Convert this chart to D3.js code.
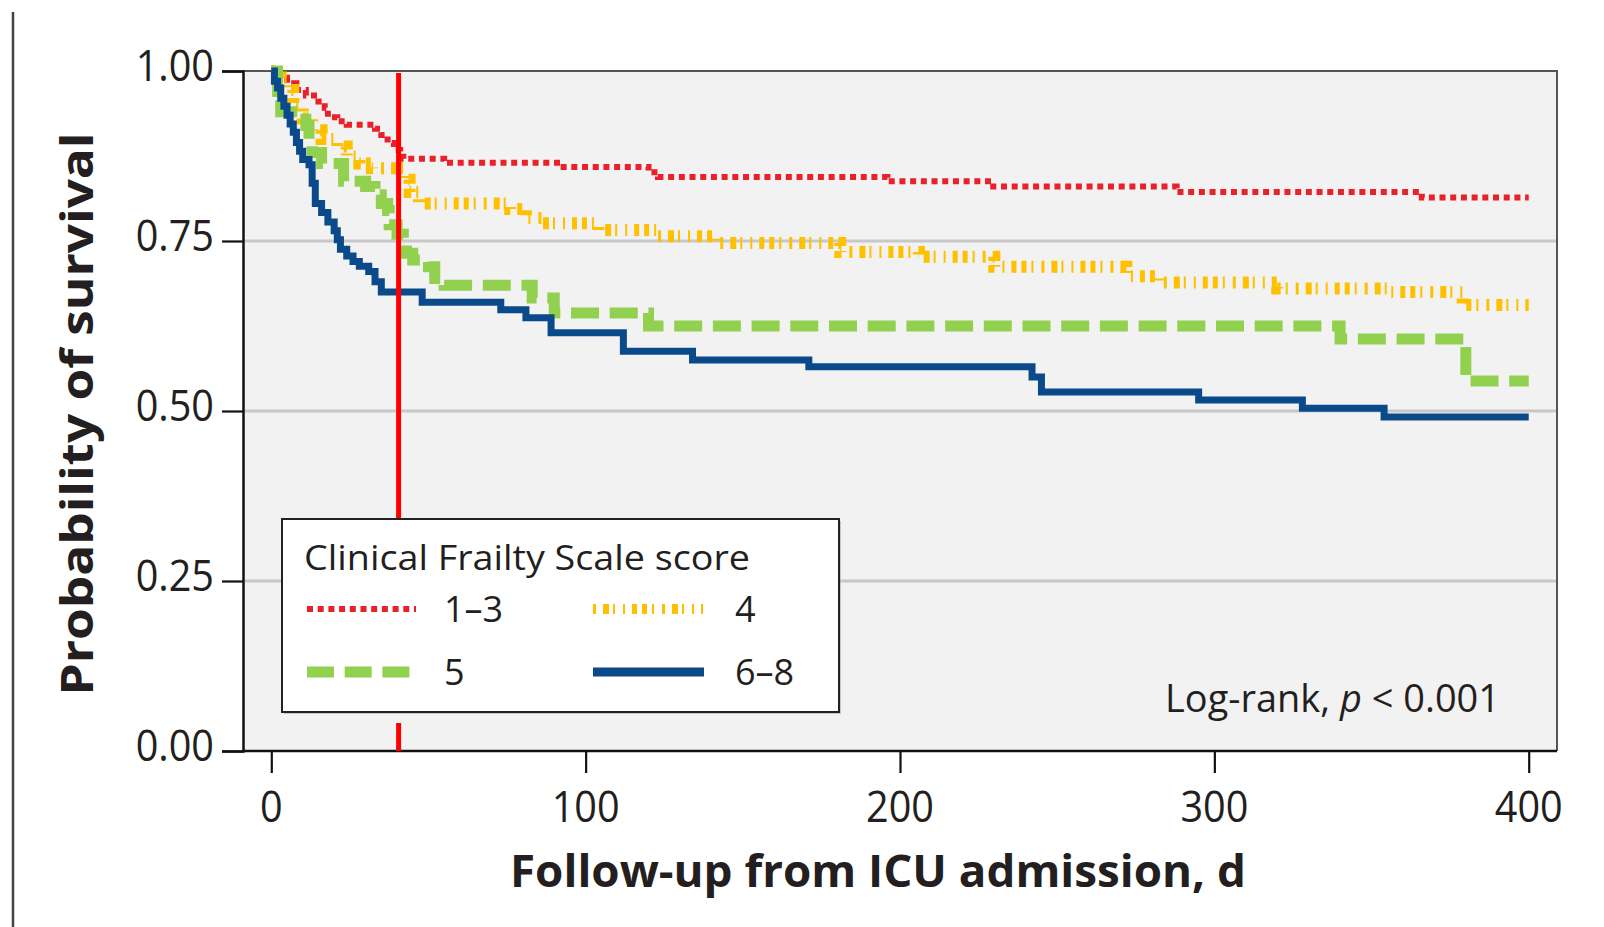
<!DOCTYPE html>
<html><head><meta charset="utf-8">
<script src="https://cdn.jsdelivr.net/npm/d3@7"></script>
<style>body{margin:0;background:#fff;} svg{display:block;}</style>
</head><body>
<svg id="chart" width="1604" height="927"></svg>
<script>
// ---------- data ----------
const groups = ["1–3", "4", "5", "6–8"];
// Kaplan–Meier step points: [day, survival]
const cfs13 = [[0,1.0],[3,0.99],[5,0.982],[8,0.972],[11,0.964],[15,0.955],[17,0.946],[18,0.932],[21,0.926],[24,0.921],[33,0.915],[35,0.906],[37,0.894],[39,0.884],[41,0.874],[42,0.871],[55,0.865],[92,0.859],[120,0.851],[123,0.844],[196,0.838],[228,0.83],[288,0.822],[366,0.814],[400,0.814]];
const cfs4 = [[0,1.0],[3,0.99],[5,0.972],[7,0.95],[10,0.93],[13,0.913],[16,0.9],[21,0.889],[24,0.874],[28,0.864],[32,0.857],[42,0.84],[44,0.822],[47,0.805],[76,0.797],[81,0.784],[86,0.776],[104,0.766],[123,0.757],[141,0.747],[181,0.734],[206,0.727],[230,0.712],[272,0.698],[282,0.689],[320,0.68],[355,0.675],[379,0.656],[400,0.656]];
const cfs5 = [[0,1.0],[2,0.97],[3,0.94],[11,0.92],[12,0.9],[13,0.88],[16,0.864],[23,0.838],[30,0.83],[33,0.818],[35,0.805],[37,0.795],[37.5,0.774],[40,0.76],[42,0.745],[43,0.732],[45,0.722],[50,0.712],[52,0.695],[55,0.685],[83,0.666],[90,0.644],[120,0.625],[340,0.606],[380,0.544],[400,0.544]];
const cfs68 = [[0,1.0],[1,0.985],[2,0.975],[3,0.96],[4,0.948],[5,0.935],[6,0.922],[7,0.91],[8,0.895],[9,0.882],[10,0.87],[12,0.862],[13,0.835],[14,0.805],[16,0.792],[18,0.778],[20,0.765],[21,0.752],[22,0.738],[24,0.728],[26,0.72],[28,0.713],[31,0.705],[33,0.69],[35,0.675],[48,0.66],[73,0.649],[81,0.637],[89,0.615],[112,0.588],[134,0.575],[171,0.565],[242,0.55],[245,0.528],[295,0.516],[328,0.504],[354,0.491],[400,0.491]];
const xTicks = [0, 100, 200, 300, 400];
const yTicks = [0, 0.25, 0.5, 0.75, 1];
const yTickLabels = ["0.00", "0.25", "0.50", "0.75", "1.00"];
const gridValues = [0.25, 0.5, 0.75];
const markerDay = 40.5;
const legendTitle = "Clinical Frailty Scale score";
const xTitle = "Follow-up from ICU admission, d";
const yTitle = "Probability of survival";

// ---------- styles ----------
const seriesStyle = [
  {data: cfs13, color: "#e8212b", width: 6, dash: "6,4.7"},
  {data: cfs4,  color: "#ffc000", width: 12, dash: "3,7,6,4,2,8,2,7,5,5,5,5,2,8"},
  {data: cfs5,  color: "#92d050", width: 11, dash: "28,10.7"},
  {data: cfs68, color: "#0b4a8a", width: 7, dash: null}
];
const FONT = "'Open Sans', 'Noto Sans', sans-serif";

const svg = d3.select("#chart");
const x = d3.scaleLinear().domain([-9, 409]).range([243, 1557]);
const y = d3.scaleLinear().domain([0, 1]).range([751, 71]);
const [x0, x1] = x.range();
const [yb, yt] = y.range();

// page rule on the left
svg.append("line").attr("x1", 13).attr("x2", 13).attr("y1", 12).attr("y2", 927)
  .attr("stroke", "#444").attr("stroke-width", 2.5);

// plot background
svg.append("rect").attr("x", x0).attr("y", yt).attr("width", x1 - x0).attr("height", yb - yt)
  .attr("fill", "#f2f2f2");

// grid
svg.append("g").selectAll("line").data(gridValues).join("line")
  .attr("x1", x0).attr("x2", x1).attr("y1", d => y(d)).attr("y2", d => y(d))
  .attr("stroke", "#c8c8c8").attr("stroke-width", 3);

// frame top/right
svg.append("path").attr("d", `M${x0},${yt}H${x1}V${yb}`).attr("fill", "none")
  .attr("stroke", "#555").attr("stroke-width", 2);

// axes
const yAxis = d3.axisLeft(y).tickValues(yTicks).tickSize(21).tickFormat("");
const gy = svg.append("g").attr("transform", `translate(${x0},0)`).call(yAxis);
gy.select(".domain").attr("stroke", "#111").attr("stroke-width", 2.5);
gy.selectAll(".tick line").attr("stroke", "#111").attr("stroke-width", 2.2);

const xAxis = d3.axisBottom(x).tickValues(xTicks).tickSize(22).tickFormat("");
const gx = svg.append("g").attr("transform", `translate(0,${yb})`).call(xAxis);
gx.select(".domain").attr("stroke", "#111").attr("stroke-width", 2.5).attr("d", `M${x0},0H${x1}`);
gx.selectAll(".tick line").attr("stroke", "#111").attr("stroke-width", 2.2);

function txt(g, px, py, str, o) {
  const t = g.append("text")
    .attr("transform", `translate(${px},${py})${o.rot ? " rotate(" + o.rot + ")" : ""} scale(${o.sx || 1},1)`)
    .attr("font-family", FONT).attr("font-size", o.size).attr("font-weight", o.weight || 400)
    .attr("text-anchor", o.anchor || "start").attr("fill", o.fill || "#231f20").text(str);
  if (o.len) t.attr("textLength", o.len).attr("lengthAdjust", "spacingAndGlyphs");
  return t;
}

// tick labels
yTicks.forEach((v, i) => txt(svg, 214, y(v) + 10, yTickLabels[i], {size: 44, anchor: "end", sx: 0.9}));
xTicks.forEach(v => txt(svg, x(v), 822, String(v), {size: 44, anchor: "middle", sx: 0.9}));

// axis titles
txt(svg, 878, 887, xTitle, {size: 44, weight: 700, anchor: "middle", len: 736});
txt(svg, 93, 414, yTitle, {size: 44, weight: 700, anchor: "middle", rot: -90, len: 563});

// survival curves
const line = d3.line().x(d => x(d[0])).y(d => y(d[1])).curve(d3.curveStepAfter);
seriesStyle.forEach(s => {
  svg.append("path").datum(s.data).attr("d", line).attr("fill", "none")
    .attr("stroke", s.color).attr("stroke-width", s.width)
    .attr("stroke-dasharray", s.dash).attr("stroke-linejoin", "miter");
});

// legend box geometry
const lg = {x: 282, y: 519, w: 557, h: 193};

// red vertical marker (interrupted by the legend)
svg.append("line").attr("x1", x(markerDay)).attr("x2", x(markerDay)).attr("y1", y(1) + 2).attr("y2", lg.y + 4)
  .attr("stroke", "#ff0000").attr("stroke-width", 5);
svg.append("line").attr("x1", x(markerDay)).attr("x2", x(markerDay)).attr("y1", lg.y + lg.h + 11).attr("y2", y(0))
  .attr("stroke", "#ff0000").attr("stroke-width", 5);

// legend
const L = svg.append("g");
L.append("rect").attr("x", lg.x + 2).attr("y", lg.y + 2).attr("width", lg.w).attr("height", lg.h)
  .attr("fill", "#9a9a9a").attr("opacity", 0.5);
L.append("rect").attr("x", lg.x).attr("y", lg.y).attr("width", lg.w).attr("height", lg.h)
  .attr("fill", "#fff").attr("stroke", "#222").attr("stroke-width", 2);
txt(L, lg.x + 22, lg.y + 51, legendTitle, {size: 35, len: 446});
const legPos = [
  {sx: lg.x + 25, sy: lg.y + 90, len: 109, tx: 137},
  {sx: lg.x + 311, sy: lg.y + 90, len: 110, tx: 142},
  {sx: lg.x + 25, sy: lg.y + 153, len: 105, tx: 137},
  {sx: lg.x + 311, sy: lg.y + 153, len: 111, tx: 142}
];
groups.forEach((gname, i) => {
  const s = seriesStyle[i], p = legPos[i];
  L.append("line").attr("x1", p.sx).attr("x2", p.sx + p.len).attr("y1", p.sy).attr("y2", p.sy)
    .attr("stroke", s.color).attr("stroke-width", i === 0 ? 6 : (i === 3 ? 9 : (i === 1 ? 10 : 11)))
    .attr("stroke-dasharray", i === 2 ? "27,10.7" : s.dash);
  txt(L, p.sx + p.tx, p.sy + 13, gname, {size: 36});
});

// log-rank annotation
const lr = svg.append("text").attr("x", 1165).attr("y", 712).attr("font-family", FONT)
  .attr("font-size", 38).attr("fill", "#231f20").attr("textLength", 335).attr("lengthAdjust", "spacingAndGlyphs");
lr.append("tspan").text("Log-rank, ");
lr.append("tspan").attr("font-style", "italic").text("p");
lr.append("tspan").text(" < 0.001");
</script>
</body></html>
